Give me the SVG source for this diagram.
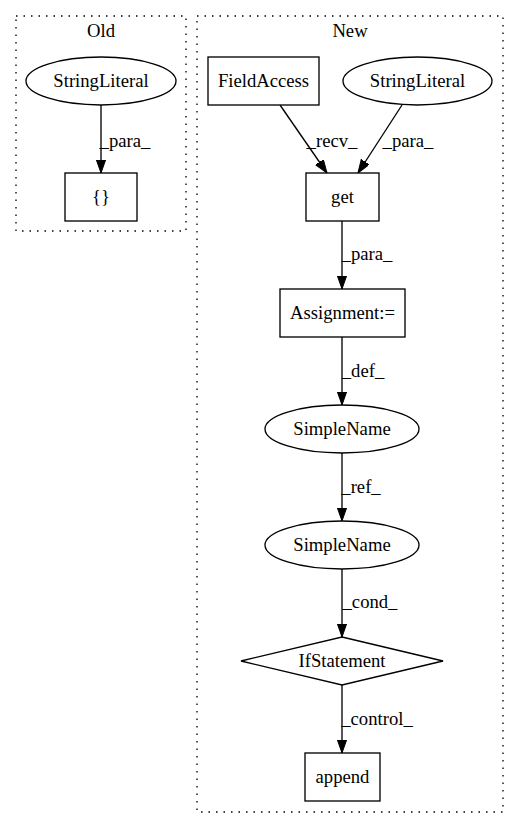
<svg xmlns="http://www.w3.org/2000/svg" width="519" height="828" viewBox="0 0 519 828">
<style>
text{font-family:"Liberation Serif","Times New Roman",serif;font-size:18.67px;fill:#000;text-anchor:middle}
.cl{fill:none;stroke:#000;stroke-width:1.33;stroke-dasharray:1.5 6}
.n{fill:#fff;stroke:#000;stroke-width:1.33}
.e{fill:none;stroke:#000;stroke-width:1.33;marker-end:url(#ah)}
</style>
<defs>
<marker id="ah" markerUnits="userSpaceOnUse" markerWidth="14" markerHeight="10" refX="13.3" refY="4.7" orient="auto" viewBox="0 0 14 10">
<polygon points="0,0 13.3,4.7 0,9.4" fill="#000" stroke="#000" stroke-width="1"/>
</marker>
</defs>
<rect width="519" height="828" fill="#fff"/>
<g id="cluster_old">
<rect class="cl" x="16" y="16" width="170" height="215"/>
<text x="101" y="37">Old</text>
</g>
<g id="cluster_new">
<rect class="cl" x="197" y="16" width="306" height="796"/>
<text x="350" y="37">New</text>
</g>
<g id="edges">
<line class="e" x1="101" y1="105" x2="101" y2="173"/>
<text x="125" y="147">_para_</text>
<line class="e" x1="280" y1="105" x2="327" y2="173"/>
<text x="332" y="147">_recv_</text>
<line class="e" x1="402" y1="105" x2="358" y2="173"/>
<text x="408" y="147">_para_</text>
<line class="e" x1="342" y1="221" x2="342" y2="289"/>
<text x="367" y="260">_para_</text>
<line class="e" x1="342" y1="337" x2="342" y2="405"/>
<text x="363" y="377">_def_</text>
<line class="e" x1="342" y1="453" x2="342" y2="521"/>
<text x="361" y="493">_ref_</text>
<line class="e" x1="342" y1="569" x2="342" y2="637"/>
<text x="370" y="608">_cond_</text>
<line class="e" x1="342" y1="685" x2="342" y2="753"/>
<text x="377" y="725">_control_</text>
</g>
<g id="old_stringliteral">
<ellipse class="n" cx="101" cy="81" rx="75" ry="24"/>
<text x="101" y="87">StringLiteral</text>
</g>
<g id="old_braces">
<rect class="n" x="65" y="173" width="72" height="48"/>
<text x="101" y="203">{}</text>
</g>
<g id="fieldaccess">
<rect class="n" x="208" y="57" width="111" height="48"/>
<text x="263.5" y="87">FieldAccess</text>
</g>
<g id="new_stringliteral">
<ellipse class="n" cx="417.5" cy="81" rx="74.5" ry="24"/>
<text x="417.5" y="87">StringLiteral</text>
</g>
<g id="get">
<rect class="n" x="306" y="173" width="73" height="48"/>
<text x="342.5" y="203">get</text>
</g>
<g id="assignment">
<rect class="n" x="280" y="289" width="125" height="48"/>
<text x="342.5" y="319">Assignment:=</text>
</g>
<g id="simplename1">
<ellipse class="n" cx="342" cy="429" rx="77" ry="24"/>
<text x="342" y="435">SimpleName</text>
</g>
<g id="simplename2">
<ellipse class="n" cx="342" cy="545" rx="77" ry="24"/>
<text x="342" y="551">SimpleName</text>
</g>
<g id="ifstatement">
<polygon class="n" points="342,637 443,661 342,685 241,661"/>
<text x="342" y="667">IfStatement</text>
</g>
<g id="append">
<rect class="n" x="305" y="753" width="75" height="48"/>
<text x="342.5" y="783">append</text>
</g>
</svg>
